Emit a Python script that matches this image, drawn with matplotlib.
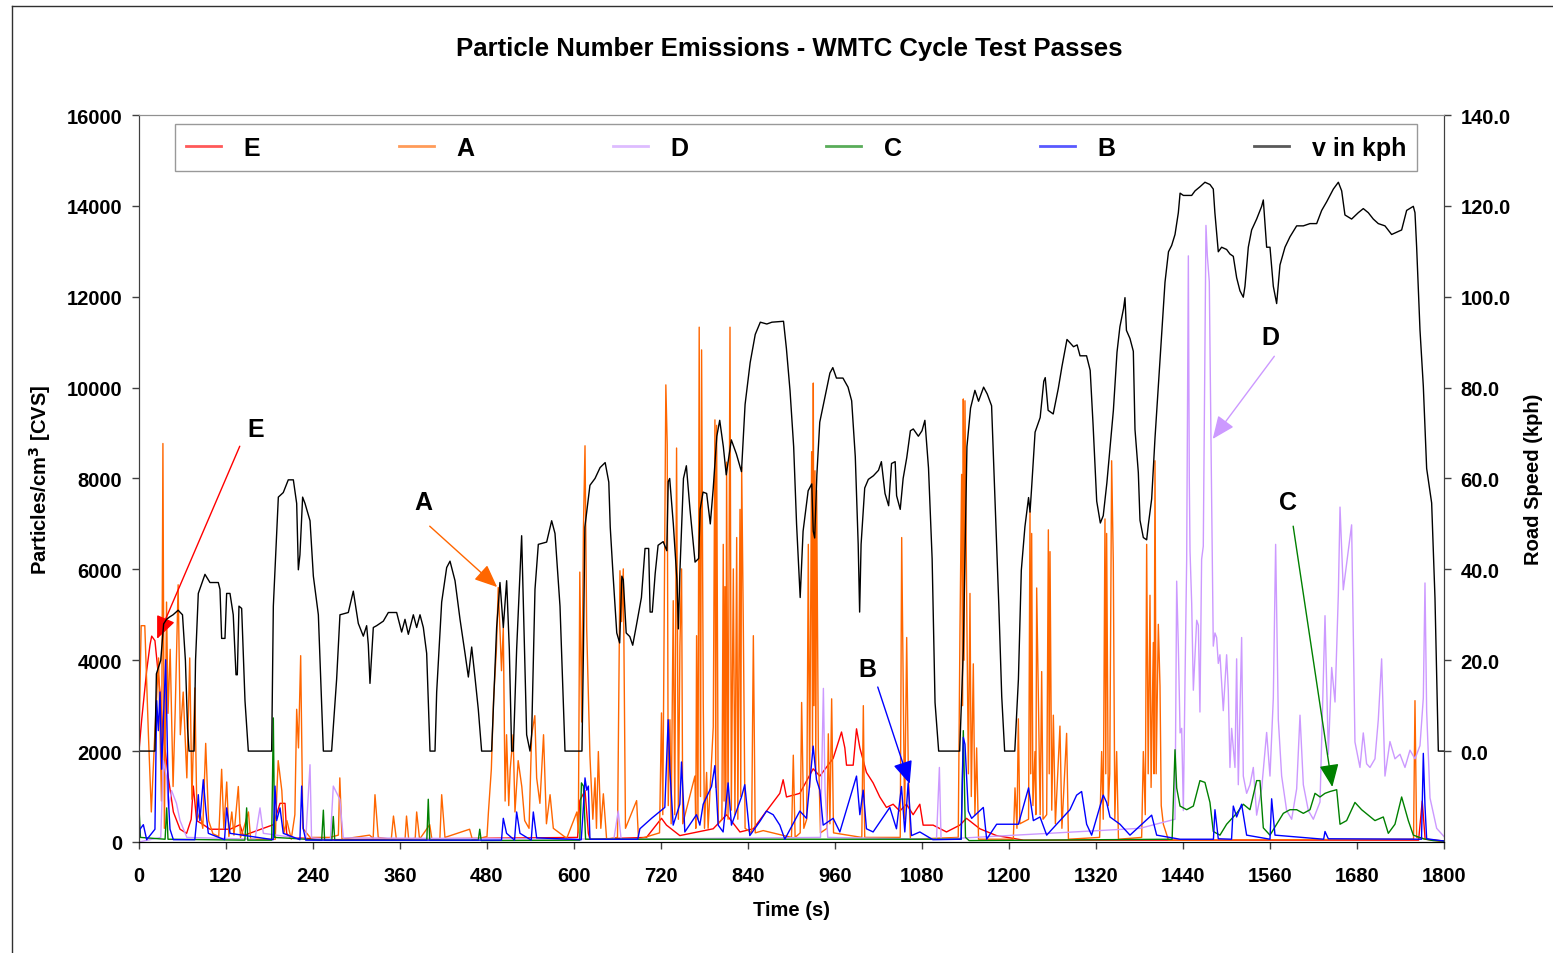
import matplotlib
matplotlib.use("Agg")
import matplotlib.pyplot as plt
from matplotlib.lines import Line2D

plt.rcParams['font.family'] = ['Liberation Sans', 'DejaVu Sans']
plt.rcParams['font.weight'] = 'bold'

# road speed trace (time s, kph)
speed_pts = [
    (0, 0), (22, 0), (24, 17), (30, 20), (34, 28), (38, 29), (42, 29.5), (47, 30), (54, 31), (60, 30),
    (64, 20), (67, 5), (69, 0), (76, 0), (78, 20), (81.8, 34.7), (91, 38.9), (97.9, 37.1), (109.4, 37.1),
    (111.7, 35.6), (114, 24.8), (118.6, 24.8), (120.9, 34.7), (125.5, 34.7), (130, 30), (133.8, 16.8),
    (135.6, 16.8), (137.9, 31.9), (141.6, 31.4), (146.2, 11.1), (150.8, 0), (183, 0), (185.3, 31.9),
    (192.2, 55.9), (199, 56.9), (205.9, 59.7), (212.9, 59.7), (217.5, 54.5), (219.8, 39.9), (222, 43.2),
    (225.7, 55.9), (229, 54.5), (235.9, 50.7), (240.5, 38.5), (247.4, 30), (254.3, 0), (265.7, 0),
    (272.6, 15.8), (277.2, 30), (288.7, 30.5), (295.6, 35.2), (302.5, 28.1), (309.4, 25.3), (314, 27.6),
    (316.3, 23.4), (318.6, 14.9), (323.2, 27.2), (327.8, 27.6), (337, 28.6), (343.9, 30.5), (355.4, 30.5),
    (362.3, 26.2), (366.9, 29), (371.5, 25.7), (378.4, 30), (383, 27.2), (387.6, 30), (392.2, 27.2),
    (396.8, 21.5), (401.4, 0), (408.3, 0), (410.6, 13), (417.5, 32.8), (424.4, 40.4), (429, 41.8),
    (435.9, 37.5), (442.8, 29), (449.7, 21.5), (454.3, 16.3), (458.9, 22.9), (463.4, 16.3), (468, 9.2),
    (472.6, 0), (486.4, 0), (493.3, 27.2), (497.9, 37.1), (502.5, 27.2), (507.1, 37.5), (510.8, 22.4),
    (514, 0), (516.3, 0), (520.9, 22.4), (527.8, 47.4), (534.7, 3.6), (539.3, 0), (541.6, 3.6),
    (546.2, 35.6), (550.8, 45.5), (562.3, 46), (569.2, 50.7), (573.8, 47.9), (580.7, 31.9), (587.6, 0),
    (611, 0), (613, 22), (615, 49.3), (622, 58.5), (629, 60), (636, 62.4), (643, 63.5), (648, 59.2),
    (650, 49.3), (654, 38.5), (659, 26), (663, 23.8), (666, 38.5), (668, 37.7), (672, 26), (677, 25.2),
    (681, 23.3), (686, 27.6), (693, 33.8), (698, 44.6), (703, 44.6), (705, 30.6), (708, 30.6), (712, 39.1),
    (716, 45.3), (723, 46.1), (728, 44.1), (730, 59.3), (732, 60), (737, 50), (742, 37.7), (744, 26.9),
    (746, 39.1), (751, 60), (755, 62.8), (760, 53.2), (767, 41.6), (772, 42.4), (774, 53.2), (778, 57),
    (783, 56.7), (788, 50), (792, 57.7), (797, 69.3), (801, 72.8), (806, 67), (810, 60.8), (817, 68.5),
    (824, 65.4), (831, 61.5), (836, 76.3), (843, 85.5), (850, 91.7), (857, 94.4), (866, 94), (873, 94.4),
    (889, 94.6), (893, 88.6), (898, 79.3), (903, 67), (907, 50), (912, 33.8), (916, 48.4), (923, 57.3),
    (928, 58.8), (930, 48.4), (932, 46.9), (935, 60.8), (939, 72.4), (946, 77.8), (953, 83.2), (957, 84.4),
    (962, 82.1), (971, 82.1), (978, 80.1), (983, 77.1), (988, 64.8), (992, 45.5), (994, 30.6), (996, 45.5),
    (1001, 57.9), (1006, 59.8), (1013, 60.6), (1020, 61.8), (1024, 63.7), (1029, 56.7), (1034, 54),
    (1038, 63.3), (1043, 63.7), (1045, 56.2), (1050, 53.2), (1054, 60), (1059, 64.6), (1064, 70.5),
    (1068, 70.9), (1075, 69.3), (1080, 70.5), (1084, 72.8), (1089, 62.3), (1094, 42.3), (1098, 10.7),
    (1103, 0), (1132, 0), (1137, 22.2), (1142, 67), (1147, 75.5), (1153, 79.4), (1158, 77), (1165, 80.1),
    (1170, 78.6), (1176, 76), (1181, 54), (1186, 32), (1190, 12), (1194, 0), (1208, 0), (1213, 15.8),
    (1217, 39.8), (1222, 49.4), (1227, 55.8), (1229, 52.6), (1231, 57.4), (1236, 70.2), (1243, 73.4),
    (1248, 81.4), (1250, 82.2), (1254, 75), (1261, 74.2), (1268, 79.8), (1273, 84.6), (1280, 90.6),
    (1289, 89), (1294, 89.4), (1298, 87), (1307, 87), (1312, 83.8), (1316, 71.8), (1321, 55), (1326, 50.2),
    (1330, 51.8), (1335, 59), (1344, 75), (1349, 87.8), (1353, 93.4), (1358, 97.4), (1360, 99.8),
    (1362, 92.6), (1366.9, 90.8), (1371.5, 88), (1373.8, 70.8), (1378.4, 61.3), (1380.7, 50.8),
    (1385.3, 47), (1389.9, 46.5), (1392.2, 49.8), (1396.8, 55.5), (1401.4, 68.9), (1406, 80.3),
    (1410.6, 91.8), (1415.2, 103.2), (1420, 109.9), (1424.4, 111.3), (1429, 113.7), (1433.6, 118.5),
    (1436, 122.8), (1440.5, 122.3), (1452, 122.3), (1456.6, 123.3), (1463.4, 124.2), (1470.3, 125.2),
    (1477.2, 124.7), (1481.8, 123.7), (1484, 118.5), (1488.7, 109.9), (1493.3, 110.9), (1500.2, 110.4),
    (1504.8, 109.4), (1509.4, 108.9), (1514, 104.2), (1518.6, 101.3), (1523.2, 99.9), (1525.5, 102.3),
    (1530.1, 110.9), (1534.7, 114.7), (1541.6, 117.1), (1548.5, 119.9), (1550.8, 121.3), (1555.4, 110.9),
    (1560, 110.9), (1564.6, 102.3), (1569.2, 98.5), (1573.8, 107), (1580.7, 110.9), (1587.6, 113.2),
    (1596.8, 115.6), (1606, 115.6), (1615.2, 116.1), (1624.4, 116.1), (1631.3, 119), (1638.2, 120.9),
    (1647.4, 123.7), (1654.3, 125.2), (1658.9, 123.3), (1663.4, 118), (1672.6, 117.1), (1681.8, 118.5),
    (1688.7, 119.4), (1695.6, 118.5), (1702.5, 117.1), (1709.4, 116.1), (1718.6, 115.6), (1727.8, 113.7),
    (1734.7, 114.2), (1741.6, 114.7), (1748.5, 119), (1757.7, 119.9), (1760, 118.5), (1762.3, 110.9),
    (1766.9, 92.7), (1771.5, 80.3), (1776.1, 62.2), (1783, 54.6), (1787.6, 33.6), (1792.2, 0), (1800, 0),
]

# particle number traces (time s, particles/cm3)
e_pts = [
    (0, 2000), (3.7, 2690), (10.6, 3770), (15.2, 4340), (17.5, 4530), (22, 4430), (29, 3300), (33.6, 2360),
    (40.5, 1410), (47.4, 660), (56.6, 280), (65.7, 190), (72, 500), (74.9, 1230), (79.5, 470), (88.7, 380),
    (97.9, 280), (125.5, 280), (139.3, 380), (143.9, 140), (185.3, 380), (194.5, 850), (201.4, 850),
    (203.7, 190), (208, 100), (264, 50), (605, 100), (608, 910), (615.2, 1130), (619.8, 190), (622, 60),
    (700, 100), (720.7, 520), (727.6, 370), (746, 140), (792, 290), (810.5, 600), (828.9, 220), (847.4, 290),
    (865.5, 680), (883.9, 1070), (888.5, 1370), (893.1, 990), (911.5, 1070), (929.9, 1610), (939.1, 1450),
    (957.5, 1840), (969, 2420), (973.6, 2070), (975.9, 1690), (985.1, 1690), (989.7, 2490), (994.3, 2070),
    (1003.4, 1530), (1012.6, 1300), (1021.8, 990), (1031, 760), (1040.2, 830), (1049.4, 680), (1058.6, 830),
    (1067.8, 600), (1077, 830), (1081.6, 370), (1095.4, 370), (1113.8, 220), (1132.2, 370), (1141.4, 520),
    (1159.8, 290), (1182.8, 140), (1220, 40), (1765, 40), (1770, 900), (1774, 60), (1800, 20),
]

a_pts = [
    (0, 2260), (3, 4760), (8, 4760), (13, 2360), (17, 660), (22, 2450), (27, 4050), (31, 900), (33, 8770),
    (35, 300), (38, 5280), (40, 2830), (43, 4240), (47, 1220), (50, 2920), (54, 5660), (57, 2360), (61, 3300),
    (66, 1410), (70, 4050), (73, 940), (77, 3390), (80, 470), (84, 660), (88, 300), (92, 2170), (96, 470),
    (102, 180), (110, 120), (114, 1600), (117, 300), (121, 1320), (124, 120), (128, 660), (131, 150),
    (137, 1220), (140, 100), (144, 280), (151, 660), (154, 60), (188, 60), (190, 1040), (192, 1790),
    (197, 1130), (200, 200), (204, 470), (210, 60), (215, 600), (217.5, 2920), (220, 2070), (223, 4100),
    (226, 300), (236, 100), (263, 100), (275, 150), (277, 1410), (280, 60), (318, 150), (323, 80),
    (325.5, 1040), (330, 100), (348, 60), (351, 570), (355, 60), (367, 60), (369, 570), (372, 60),
    (381, 80), (383, 660), (387, 60), (401, 380), (404, 60), (415, 60), (417.5, 1040), (422, 100),
    (456, 280), (460, 40), (480, 120), (482, 660), (486, 1600), (489, 3110), (493, 4240), (495.5, 5600),
    (498, 4620), (500, 3770), (502.5, 4710), (505, 900), (507, 2360), (510, 800), (512, 1600), (516, 2360),
    (518.6, 660), (523, 1790), (528, 1220), (532, 470), (538, 300), (541.6, 2360), (546, 2780),
    (548.5, 1410), (553, 850), (558, 2360), (562, 400), (567, 1040), (571.5, 300), (590, 80), (604, 660),
    (606, 200), (608, 5940), (610.6, 2640), (613, 6880), (615.2, 8720), (617.5, 4700), (622, 1890),
    (626, 500), (629, 1410), (631, 300), (633.6, 1990), (637, 300), (640.5, 1060), (645, 60), (660, 100),
    (663.4, 5970), (665.7, 4850), (668, 6010), (671, 300), (686.4, 910), (689, 60), (718, 200),
    (720.7, 2840), (722.5, 600), (726.7, 10060), (728.6, 8750), (730, 800), (732.3, 2690), (734, 400),
    (736.9, 5310), (739, 600), (741.5, 8670), (744, 500), (746.1, 4310), (748.4, 6010), (750, 400),
    (766.8, 1450), (768, 300), (769.1, 4540), (771, 500), (772.7, 11330), (774.5, 1000), (776, 10830),
    (778.3, 3070), (780, 300), (782.9, 1530), (785, 300), (792.1, 2530), (794.4, 9290), (795.5, 1200),
    (796.7, 9170), (799, 400), (804, 500), (805.9, 6550), (807, 900), (808.2, 5620), (809.5, 600),
    (810.5, 8360), (812.5, 500), (815.2, 11330), (817, 700), (819.8, 6010), (822, 600), (824.4, 6700),
    (826, 500), (829, 7320), (830, 1000), (831.3, 8250), (833.6, 4690), (836, 300), (845, 200),
    (847.4, 4540), (850, 200), (861, 250), (900, 100), (902.5, 1910), (905, 100), (912, 200), (914, 3070),
    (917, 300), (921, 500), (923.2, 6550), (925, 1200), (927.8, 8590), (929, 2000), (930.1, 10100),
    (931, 3000), (932.4, 8170), (933.5, 1500), (934.7, 7740), (937, 2070), (940, 200), (949, 300),
    (950.8, 2380), (953, 400), (955.4, 3150), (958, 200), (997, 100), (999.1, 3000), (1001, 100),
    (1050, 100), (1052, 6700), (1054.2, 3230), (1056, 500), (1058.9, 4500), (1061.1, 1610), (1064, 60),
    (1130, 100), (1132.4, 4690), (1134.7, 8090), (1136, 3000), (1137, 9750), (1138, 4000), (1139.3, 9710),
    (1141.6, 5390), (1144, 1500), (1146.2, 5470), (1148, 1000), (1150.8, 3920), (1153, 600), (1155.4, 2070),
    (1158, 60), (1206, 60), (1208.3, 1190), (1211, 300), (1212.9, 2710), (1215, 400), (1227, 500),
    (1229, 7270), (1230, 1500), (1231.3, 6790), (1233, 800), (1235.9, 1990), (1237, 600), (1238.2, 5590),
    (1240.5, 3190), (1243, 600), (1245.1, 3750), (1247, 500), (1252, 600), (1254.3, 6870), (1255.5, 1500),
    (1256.6, 6390), (1259, 700), (1261.2, 2790), (1264, 400), (1270.3, 2550), (1273, 300), (1279.5, 2390),
    (1282, 60), (1325, 100), (1327.8, 1990), (1330, 500), (1332.4, 7110), (1333.5, 1500), (1334.7, 6790),
    (1337, 800), (1339, 1500), (1341.6, 8390), (1343.9, 6150), (1346, 500), (1348.5, 1990), (1351, 60),
    (1383, 100), (1385.3, 1990), (1388, 600), (1389.9, 6550), (1392, 1500), (1394.5, 5430), (1396, 1200),
    (1399.1, 4390), (1400, 1500), (1401.4, 8390), (1403, 1500), (1406, 4790), (1408.3, 3430), (1410, 800),
    (1412.9, 390), (1420, 40), (1758, 60), (1760, 3110), (1762.3, 100), (1800, 0),
]

d_pts = [
    (0, 0), (30, 100), (33.6, 1790), (38.2, 1410), (40.5, 750), (45, 1130), (51.7, 850), (56.6, 470),
    (66, 100), (160, 60), (166.9, 750), (171.5, 190), (230, 60), (235.9, 1700), (238, 90), (264, 60),
    (268, 1230), (277, 940), (281.8, 90), (655, 60), (661, 680), (665, 60), (940, 100), (944, 3380),
    (946.3, 1140), (950, 100), (1100, 60), (1104, 1640), (1106.3, 60), (1380.7, 300), (1429, 500),
    (1431.3, 5740), (1433.6, 4300), (1436, 2400), (1438.2, 2500), (1440.5, 690), (1442.8, 3550),
    (1445.1, 6220), (1447.4, 12900), (1448.7, 8010), (1449.7, 6410), (1452, 5250), (1454.3, 3340),
    (1458.9, 4880), (1461.2, 4770), (1463.4, 2860), (1465.7, 6220), (1468, 6510), (1471.7, 13570),
    (1473.6, 12900), (1476.3, 12330), (1479.5, 7560), (1481.8, 4310), (1484.1, 4600), (1486.4, 4500),
    (1488.7, 3930), (1491, 4120), (1495.6, 2890), (1500.2, 4120), (1502.5, 3340), (1504.8, 1640),
    (1507.1, 2500), (1511.7, 1640), (1514, 4030), (1516.3, 1260), (1520.9, 4500), (1523.2, 1450),
    (1527.8, 1070), (1532.4, 1260), (1537, 1640), (1541.6, 590), (1548.5, 1170), (1555.4, 2410),
    (1560, 1450), (1564.6, 3170), (1567.8, 6550), (1571.5, 2690), (1576.1, 1450), (1583, 690),
    (1589.9, 500), (1596.8, 1170), (1601.4, 2790), (1606, 1260), (1612.9, 690), (1619.8, 500), (1629, 880),
    (1635.9, 4980), (1640.5, 1930), (1645.1, 3840), (1649.7, 3080), (1654.3, 5460), (1656.6, 7370),
    (1661.1, 5550), (1668, 6410), (1672.6, 6980), (1677.2, 2200), (1684.1, 1640), (1688.7, 2400),
    (1693.3, 1720), (1697.9, 1640), (1704.8, 1830), (1709.4, 2690), (1714, 4030), (1718.6, 1450),
    (1725.5, 2210), (1732.4, 1830), (1739.3, 1930), (1746.2, 1640), (1753.1, 2020), (1760, 1830),
    (1766.9, 2120), (1771.5, 3170), (1773.8, 5700), (1776.1, 2880), (1780.7, 970), (1789.9, 300), (1800, 120),
]

c_pts = [
    (0, 750), (2, 100), (36, 60), (38.2, 750), (40, 60), (146, 40), (148.5, 750), (150, 40), (183, 40),
    (185.3, 2730), (187, 100), (252, 40), (254.3, 700), (256, 40), (266, 40), (268, 560), (270, 40),
    (397, 40), (399, 940), (401, 40), (468, 40), (470, 280), (472, 30), (608, 40), (610.3, 1300),
    (613, 1230), (616, 60), (1134, 60), (1137, 2450), (1140, 100), (1145, 30), (1425, 60), (1429, 2030),
    (1431.3, 1190), (1435.9, 790), (1445.1, 710), (1454.3, 790), (1463.4, 1350), (1470.3, 1310),
    (1477.2, 870), (1481.8, 230), (1491, 150), (1500.2, 390), (1514, 630), (1523.2, 830), (1532.4, 710),
    (1541.6, 1350), (1546.2, 1350), (1550.8, 310), (1560, 150), (1569.2, 390), (1578.4, 630),
    (1587.6, 710), (1596.8, 710), (1606, 630), (1615.2, 710), (1622.1, 1070), (1629, 990), (1635.9, 1070),
    (1642.8, 1110), (1652, 1150), (1656.6, 390), (1665.7, 470), (1677.2, 870), (1686.4, 710),
    (1695.6, 590), (1704.8, 470), (1716.3, 550), (1723.2, 190), (1732.4, 390), (1741.6, 990),
    (1750.8, 470), (1757.7, 150), (1771.5, 70), (1785.3, 30), (1800, 20),
]

b_pts = [
    (0, 0), (1.4, 280), (6, 380), (10.6, 50), (22, 280), (24.4, 3110), (26.7, 2450), (29, 3300),
    (31.3, 1600), (33.6, 2640), (36.8, 4010), (40.5, 940), (42.8, 280), (47.4, 50), (77, 50), (79.5, 470),
    (81.8, 1040), (84, 470), (88.7, 1370), (92.4, 660), (95.6, 190), (118, 50), (120.9, 750), (125.5, 190),
    (185, 50), (187.6, 1230), (189.9, 470), (194.5, 750), (199, 190), (222, 50), (224.4, 1230),
    (226.7, 280), (230, 40), (500, 40), (502.5, 520), (507, 190), (518, 40), (520.9, 660), (525.5, 190),
    (541, 40), (543.9, 660), (548.5, 90), (610, 50), (612.9, 750), (615.2, 1410), (617.5, 1140),
    (619.8, 1230), (622, 60), (688, 60), (690.9, 290), (707, 520), (725.3, 760), (729.9, 2690),
    (732.2, 1610), (736.8, 370), (746, 830), (748.3, 1760), (752.9, 220), (769, 600), (773.6, 370),
    (778.2, 830), (789.7, 1220), (794.3, 1680), (798.9, 370), (805.7, 220), (812.6, 1300), (817.2, 370),
    (831, 990), (835.6, 1260), (842.5, 140), (856.3, 450), (865.5, 680), (874.7, 600), (883.9, 370),
    (890.8, 60), (911.5, 680), (920.7, 520), (929.9, 2110), (934.5, 1370), (939.1, 1140), (943.7, 370),
    (957.5, 520), (966.7, 220), (989.7, 1450), (994.3, 600), (998.9, 1140), (1003.4, 290), (1012.6, 220),
    (1035.6, 760), (1044.8, 290), (1051.7, 1220), (1056.3, 220), (1060.9, 1300), (1065.5, 140),
    (1077, 220), (1095, 50), (1134, 60), (1137, 2300), (1139.3, 2150), (1143.9, 680), (1148.5, 520),
    (1164.6, 760), (1169.2, 60), (1183, 390), (1213, 390), (1227, 1190), (1233.6, 470), (1242.8, 550),
    (1252, 150), (1265.8, 390), (1275, 550), (1284.1, 710), (1293.3, 1030), (1300.2, 1110), (1307.1, 390),
    (1314, 150), (1330, 1030), (1334.7, 870), (1339.3, 550), (1353.1, 390), (1366.9, 150), (1396.8, 590),
    (1403.7, 150), (1435.9, 60), (1482, 60), (1484.1, 710), (1488.7, 70), (1507, 60), (1509.4, 790),
    (1514, 550), (1520.9, 830), (1527.8, 150), (1560, 60), (1562.3, 950), (1566.9, 150), (1634, 60),
    (1635.9, 230), (1640.5, 70), (1769, 60), (1771.5, 1950), (1773.8, 790), (1776.1, 70), (1800, 20),
]

# annotation letters: (label, text pos, arrow tail, arrow head, colour)
notes = [
    ('E', (161, 9090), (139, 8710), (25, 4470), '#FF0000'),
    ('A', (392, 7480), (401, 6950), (494, 5610), '#FF6600'),
    ('B', (1004, 3810), (1019, 3410), (1063, 1280), '#0000FF'),
    ('D', (1560, 11110), (1566, 10690), (1481, 8870), '#CC99FF'),
    ('C', (1585, 7480), (1592, 6950), (1646, 1210), '#008000'),
]

series = [
    ('E', e_pts, '#FF0000'),
    ('A', a_pts, '#FF6600'),
    ('D', d_pts, '#CC99FF'),
    ('C', c_pts, '#008000'),
    ('B', b_pts, '#0000FF'),
]

fig = plt.figure(figsize=(15.53, 9.54), dpi=100)
ax = fig.add_axes([0.0895, 0.1164, 0.8403, 0.762])
ax2 = ax.twinx()

handles = []
for name, pts, col in series:
    t, v = zip(*pts)
    h, = ax.plot(t, v, color=col, lw=1.0, label=name)
    handles.append(h)

st, sv = zip(*speed_pts)
h, = ax2.plot(st, sv, color='black', lw=1.0, label='v in kph')
handles.append(h)

ax.set_xlim(0, 1800)
ax.set_ylim(0, 16000)
ax.set_xticks(range(0, 1801, 120))
ax.set_yticks(range(0, 16001, 2000))
ax2.set_ylim(-20, 140)
ax2.set_yticks(range(0, 141, 20))
ax2.set_yticklabels([f'{v:.1f}' for v in range(0, 141, 20)])

for a in (ax, ax2):
    a.tick_params(direction='out', length=5, width=1, labelsize=14.5, pad=7, color='#404040')
    for s in a.spines.values():
        s.set_color('#404040')
    a.spines['top'].set_color('#909090')
    a.spines['bottom'].set_color('black')
ax.tick_params(axis='x', pad=12)

ax.set_xlabel('Time (s)', fontsize=14.5, fontweight='bold')
ax.xaxis.set_label_coords(0.5, -0.08)
ax.set_ylabel(r'Particles/cm$^\mathbf{3}$ [CVS]', fontsize=14.5, fontweight='bold')
ax.yaxis.set_label_coords(-0.066, 0.5)
ax2.set_ylabel('Road Speed (kph)', fontsize=14.5, fontweight='bold')
ax2.yaxis.set_label_coords(1.061, 0.5)

fig.text(0.5085, 0.949, 'Particle Number Emissions - WMTC Cycle Test Passes',
         ha='center', va='center', fontsize=18.5, fontweight='bold')

for lab, tp, tail, head, col in notes:
    ax.text(tp[0], tp[1], lab, fontsize=18, fontweight='bold', ha='center', va='center')
    ax.annotate('', xy=head, xytext=tail,
                arrowprops=dict(arrowstyle='-|>,head_length=0.7,head_width=0.3',
                                color=col, lw=1, mutation_scale=20, shrinkA=0, shrinkB=0))

leg = ax2.legend(handles=handles, ncol=6, mode='expand', loc='lower left',
                 bbox_to_anchor=(0.0276, 0.923, 0.952, 0.0605), borderaxespad=0, fontsize=18,
                 frameon=True, fancybox=False, edgecolor='#999999', framealpha=1,
                 handlelength=1.4, borderpad=0.45, handletextpad=0.9)
leg.get_frame().set_linewidth(1)
for lh in leg.get_lines():
    lh.set_alpha(0.65)
    lh.set_linewidth(2)

# outer chart frame
fig.add_artist(Line2D([12 / 1553, 1], [1 - 7 / 954, 1 - 7 / 954], color='#303030', lw=1))
fig.add_artist(Line2D([12 / 1553, 12 / 1553], [0, 1 - 7 / 954], color='#303030', lw=1))

fig.savefig('out.png', dpi=100)
